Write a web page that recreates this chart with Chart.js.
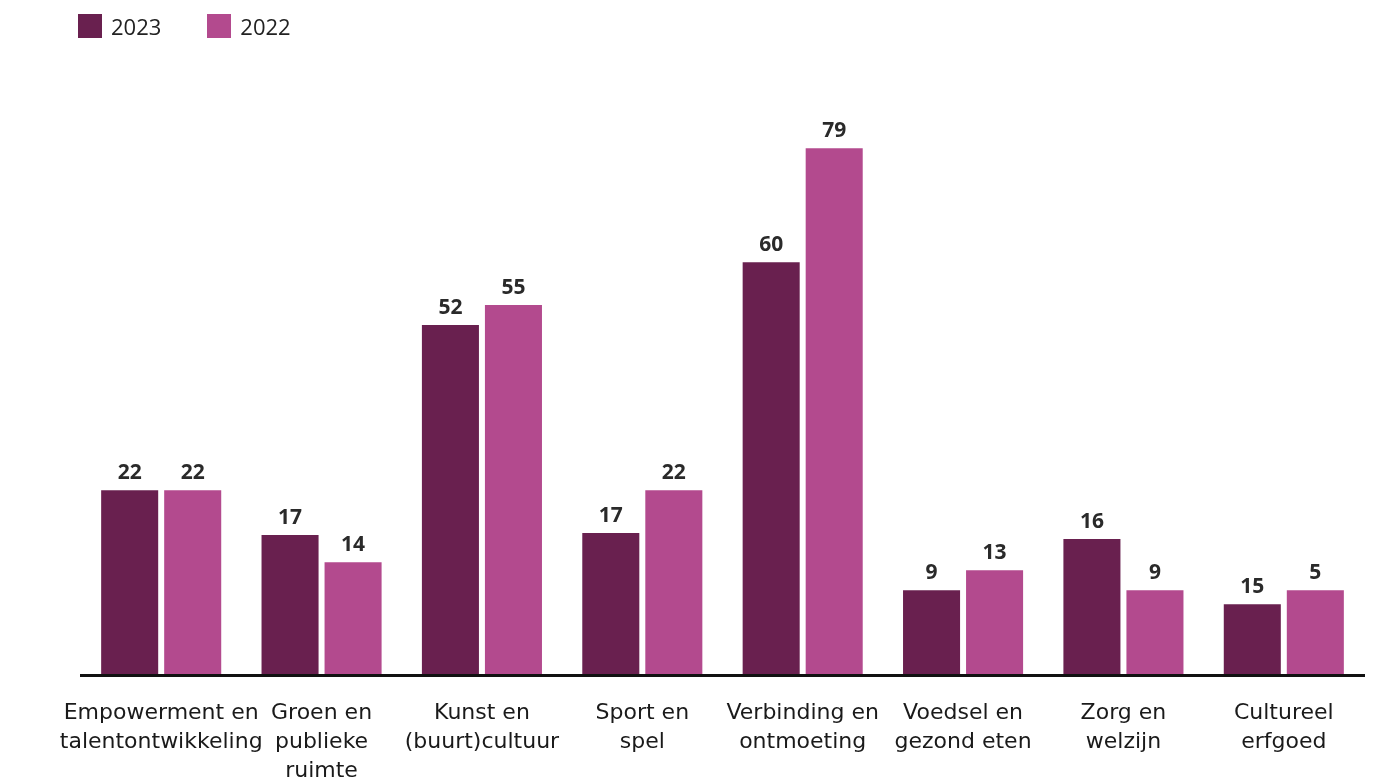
<!DOCTYPE html>
<html lang="nl">
<head>
<meta charset="utf-8">
<title>Initiatieven per thema</title>
<script src="https://cdn.jsdelivr.net/npm/chart.js@4.4.1/dist/chart.umd.min.js"></script>
<style>
  html, body { margin: 0; padding: 0; background: #fff; overflow: hidden; }
  #wrap { position: relative; width: 1373px; height: 800px; }
  #legend { position: absolute; left: 78px; top: 14px; display: flex; align-items: center;
            font-family: 'Open Sans', sans-serif; font-size: 22px; line-height: 24px; color: #222; }
  .item { display: flex; align-items: center; margin-right: 46px; }
  .box { width: 24px; height: 24px; margin-right: 9px; }
  canvas { position: absolute; left: 0; top: 0; }
</style>
</head>
<body>
<div id="wrap">
  <canvas id="chart" width="1373" height="800"></canvas>
  <div id="legend"></div>
</div>
<script>
// categories (multi-line like the original)
const categories = [
    ['Empowerment en', 'talentontwikkeling'],
    ['Groen en', 'publieke', 'ruimte'],
    ['Kunst en', '(buurt)cultuur'],
    ['Sport en', 'spel'],
    ['Verbinding en', 'ontmoeting'],
    ['Voedsel en', 'gezond eten'],
    ['Zorg en', 'welzijn'],
    ['Cultureel', 'erfgoed']
];

// printed numbers above the bars
const values2023 = [22, 17, 52, 17, 60, 9, 16, 15];
const values2022 = [22, 14, 55, 22, 79, 13, 9, 5];

// bar heights as drawn in the source (not to scale with the printed numbers there)
const barHeight2023 = [27.7, 21.0, 52.5, 21.3, 61.9, 12.7, 20.4, 10.6];
const barHeight2022 = [27.7, 16.9, 55.5, 27.7, 79.0, 15.7, 12.7, 12.7];

const seriesNames = ['2023', '2022'];
const colors = ['#69204F', '#B34A8E'];

// value labels on top of the bars
const valueLabels = {
    id: 'valueLabels',
    afterDatasetsDraw(chart) {
        const ctx = chart.ctx;
        const printed = [values2023, values2022];
        ctx.save();
        ctx.font = "bold 21px 'Open Sans', sans-serif";
        ctx.fillStyle = '#2a2a2a';
        ctx.textAlign = 'center';
        ctx.textBaseline = 'alphabetic';
        chart.data.datasets.forEach((ds, i) => {
            chart.getDatasetMeta(i).data.forEach((bar, j) => {
                ctx.fillText(String(printed[i][j]), bar.x, bar.y - 11);
            });
        });
        ctx.restore();
    }
};

const chart = new Chart(document.getElementById('chart'), {
    type: 'bar',
    data: {
        labels: categories,
        datasets: [
            { label: seriesNames[0], data: barHeight2023, backgroundColor: colors[0] },
            { label: seriesNames[1], data: barHeight2022, backgroundColor: colors[1] }
        ]
    },
    options: {
        responsive: false,
        animation: false,
        devicePixelRatio: 1,
        categoryPercentage: 0.786,
        barPercentage: 0.905,
        layout: { padding: { left: 81, right: 9, top: 75, bottom: 15 } },
        plugins: {
            legend: { display: false },
            tooltip: { enabled: false }
        },
        scales: {
            x: {
                grid: { display: false, drawTicks: false },
                border: { display: true, color: '#111', width: 3, z: 1 },
                ticks: {
                    autoSkip: false, maxRotation: 0, minRotation: 0, padding: 24,
                    color: '#1a1a1a',
                    font: { family: "'DejaVu Sans', sans-serif", size: 22, lineHeight: 1.32 }
                },
                afterFit: s => { s.height = 110; }
            },
            y: { display: false, min: 0, max: 90 }
        }
    },
    plugins: [valueLabels]
});

// html legend from the datasets
const legendEl = document.getElementById('legend');
chart.data.datasets.forEach(ds => {
    const item = document.createElement('div');
    item.className = 'item';
    item.innerHTML = `<span class="box" style="background:${ds.backgroundColor}"></span><span>${ds.label}</span>`;
    legendEl.appendChild(item);
});
</script>
</body>
</html>
